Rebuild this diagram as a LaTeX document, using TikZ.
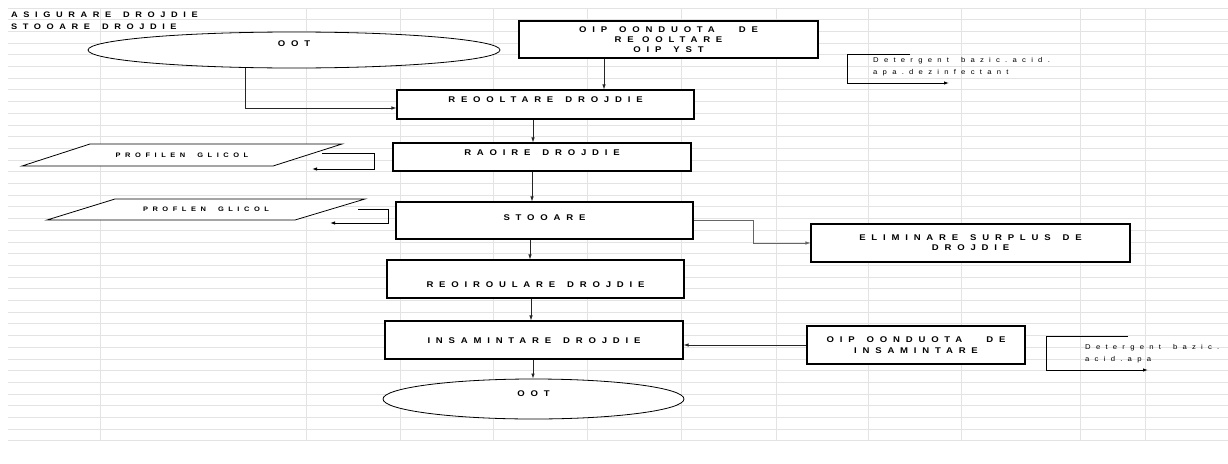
\documentclass[tikz,border=0pt]{standalone}
\usepackage{fontspec}
\setmainfont{Liberation Sans}
\newfontfamily\capsfont[LetterSpace=70, FakeStretch=1.15]{Liberation Sans}
\newfontfamily\notefont[LetterSpace=75, FakeStretch=1.1]{Liberation Sans}
\newcommand\gap{\hspace{12pt}}
\usetikzlibrary{arrows.meta, positioning, shapes.geometric, calc}

\tikzset{
  gridline/.style={gray!22, line width=0.9pt},
  flowbox/.style={draw, fill=white, line width=1.1pt, inner sep=0pt,
    align=center, font=\capsfont\bfseries\fontsize{8.3}{10}\selectfont},
  flowend/.style={flowbox, ellipse, line width=0.8pt},
  textup/.style={text height=6pt, text depth=#1},
  flowline/.style={->, line width=0.7pt, black!85},
  bracket/.style={->, line width=0.9pt},
  glicoltext/.style={inner sep=0pt, font=\capsfont\bfseries\fontsize{6.5}{8}\selectfont},
  notetext/.style={anchor=west, inner sep=0pt, align=left,
    font=\notefont\fontsize{7}{12}\selectfont},
  headtext/.style={anchor=west, inner sep=0pt,
    font=\capsfont\bfseries\fontsize{8}{12}\selectfont}
}

\begin{document}
\begin{tikzpicture}[x=1pt, y=-1pt, >={Latex[length=5pt,width=3.5pt]}]
  \useasboundingbox (0,0) rectangle (1228,463);
  % grila foii de calcul
  \foreach \i in {0,...,37}
    \draw[gridline] (8,{8+11.7*\i}) -- (1228,{8+11.7*\i});
  \foreach \gx in {100,306,400,493,587,681,776,868,961,1080,1145}
    \draw[gridline] (\gx,8) -- (\gx,441);

  % titlu
  \node[headtext] (title1) at (11,15) {ASIGURARE\gap DROJDIE};
  \node[headtext] (title2) at (11,27) {STOOARE\gap DROJDIE};

  % fluxul principal
  \node[flowend, minimum width=412pt, minimum height=36pt, textup=14pt] (cctTop) at (294,50) {OOT};
  \node[flowbox, minimum width=299pt, minimum height=37pt] (cipRec) at (668.5,39.5)
    {OIP\gap OONDUOTA\gap\gap DE\\RE OOLTARE\\OIP\gap YST};
  \node[flowbox, minimum width=297pt, minimum height=29pt, textup=10pt] (recoltare) at (545.5,104.5) {REOOLTARE\gap DROJDIE};
  \node[flowbox, minimum width=298pt, minimum height=28pt, textup=10pt] (racire) at (542,157) {RAOIRE\gap DROJDIE};
  \node[flowbox, minimum width=297pt, minimum height=37pt, textup=6pt] (stocare) at (544.5,220.5) {STOOARE};
  \node[flowbox, minimum width=319pt, minimum height=38pt] (elim) at (970.5,243)
    {ELIMINARE\gap SURPLUS\gap DE\\DROJDIE};
  \node[flowbox, minimum width=297pt, minimum height=38pt, text height=16pt, text depth=0pt] (recirc) at (535.5,279) {REOIROULARE\gap DROJDIE};
  \node[flowbox, minimum width=298pt, minimum height=38pt, textup=0pt] (insam) at (534,340) {INSAMINTARE\gap DROJDIE};
  \node[flowend, minimum width=301pt, minimum height=40pt, textup=12pt] (cctBot) at (533.5,399) {OOT};
  \node[flowbox, minimum width=218pt, minimum height=38pt, font=\capsfont\bfseries\fontsize{8.3}{11}\selectfont] (cipIns) at (916,345)
    {OIP\gap OONDUOTA\gap\gap DE\\INSAMINTARE};

  % propilen glicol
  \coordinate (glicol1) at (182,155);
  \coordinate (glicol2) at (206,209.5);
  \draw[line width=0.8pt, fill=white] ($(glicol1)+(-92,-11)$) -- ($(glicol1)+(160,-11)$)
    -- ($(glicol1)+(91,11)$) -- ($(glicol1)+(-160,11)$) -- cycle;
  \node[glicoltext] (glicolText1) at (glicol1) {PROFILEN\gap GLICOL};
  \draw[line width=0.8pt, fill=white] ($(glicol2)+(-91,-10.5)$) -- ($(glicol2)+(159,-10.5)$)
    -- ($(glicol2)+(89,10.5)$) -- ($(glicol2)+(-159,10.5)$) -- cycle;
  \node[glicoltext] (glicolText2) at (glicol2) {PROFLEN\gap GLICOL};
  \draw[bracket] ($(glicol1)+(140,-2)$) -- ++(52,0) -- ++(0,16) -- ++(-62,0);
  \draw[bracket] ($(glicol2)+(152,-0.5)$) -- ++(30,0) -- ++(0,14) -- ++(-58,0);

  % detergenti
  \node[notetext] (det1) at (873,67) {Detergent\gap bazic.acid.\\apa.dezinfectant};
  \node[notetext] (det2) at (1085,353.5) {Detergent\gap bazic.\\acid.apa};
  \draw[bracket] ($(det1.west)+(37,-13)$) -- ++(-63,0) -- ++(0,29) -- ++(102,0);
  \draw[bracket] ($(det2.west)+(43,-17.5)$) -- ++(-82,0) -- ++(0,34) -- ++(102,0);

  % legaturi
  \draw[flowline] ([xshift=-49pt]cctTop.south) |- ([yshift=-3.5pt]recoltare.west);
  \draw[flowline] ([xshift=-64.5pt]cipRec.south) -- ([xshift=-64.5pt]cipRec.south |- recoltare.north);
  \draw[flowline] ([xshift=-12.5pt]recoltare.south) -- ([xshift=-12.5pt]recoltare.south |- racire.north);
  \draw[flowline] ([xshift=-10pt]racire.south) -- ([xshift=-10pt]racire.south |- stocare.north);
  \draw[flowline] ([xshift=-14.5pt]stocare.south) -- ([xshift=-14.5pt]stocare.south |- recirc.north);
  \draw[flowline] ([xshift=-4.5pt]recirc.south) -- ([xshift=-4.5pt]recirc.south |- insam.north);
  \draw[flowline] ([xshift=-1pt]insam.south) -- ([xshift=-1pt]insam.south |- cctBot.north);
  \draw[flowline, black!60, line width=0.6pt] (stocare.east) -- ++(60,0) |- (elim.west);
  \draw[flowline] (cipIns.west) -- (cipIns.west -| insam.east);
\end{tikzpicture}
\end{document}
